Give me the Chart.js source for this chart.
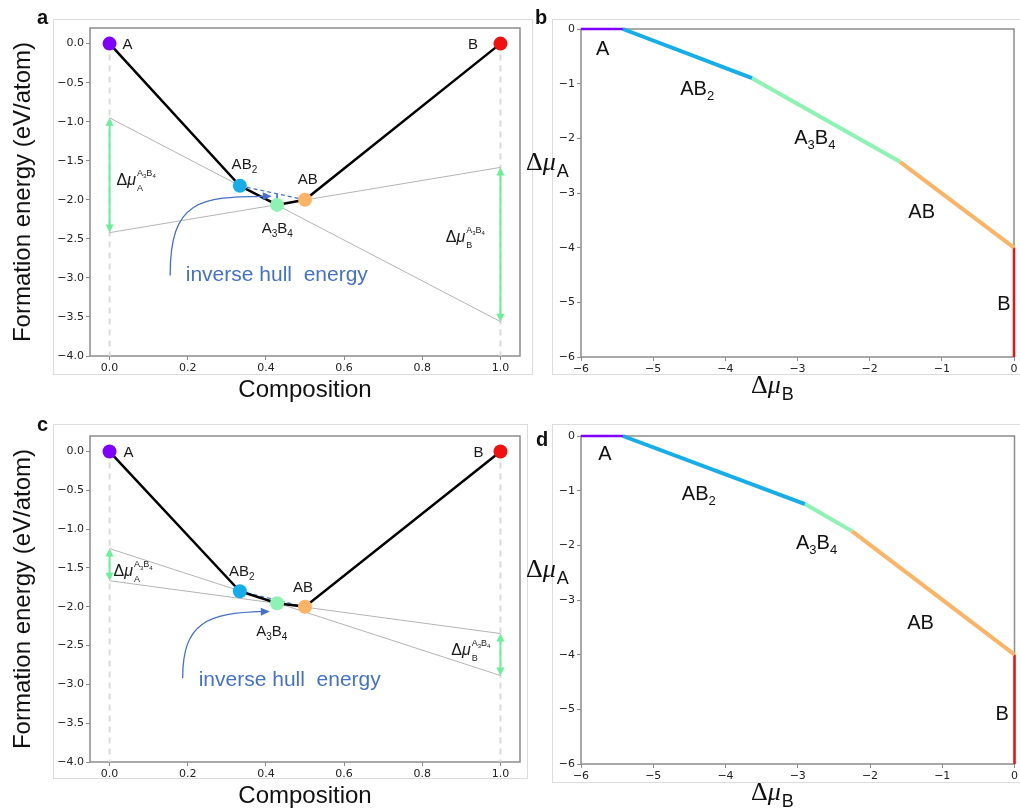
<!DOCTYPE html>
<html>
<head>
<meta charset="utf-8">
<script src="https://cdn.jsdelivr.net/npm/chart.js@4.4.0/dist/chart.umd.min.js"></script>
<style>
  body { margin: 0; background: #fff; }
  #fig { position: relative; width: 1020px; height: 811px; overflow: hidden; }
  .box { position: absolute; border: 1px solid #dcdcdc; }
  .tag { position: absolute; font: bold 20px "Liberation Sans", Arial, sans-serif; line-height: 20px; color: #111; }
  canvas { position: absolute; }
</style>
</head>
<body>
<div id="fig">
  <div class="box" style="left:53px;top:19px;width:478px;height:354px"></div>
  <div class="box" style="left:552px;top:19px;width:480px;height:354px"></div>
  <div class="box" style="left:53px;top:424px;width:473px;height:353px"></div>
  <div class="box" style="left:552px;top:424px;width:480px;height:357px"></div>
  <canvas id="chartA" width="530" height="405" style="left:0;top:0"></canvas>
  <canvas id="chartB" width="500" height="405" style="left:520px;top:0"></canvas>
  <canvas id="chartC" width="530" height="406" style="left:0;top:405px"></canvas>
  <canvas id="chartD" width="500" height="406" style="left:520px;top:405px"></canvas>
  <div class="tag" style="left:37px;top:7px">a</div>
  <div class="tag" style="left:535px;top:7px">b</div>
  <div class="tag" style="left:37px;top:414px">c</div>
  <div class="tag" style="left:536px;top:429px">d</div>
</div>
<script>
// phases along the hull, in order of composition
const phases = ["A", "AB_2", "A_3B_4", "AB", "B"];
const phaseColors = ["#8000ff", "#15aee8", "#8cf3b2", "#fbb466", "#f01010"];
const composition = [0, 0.3333, 0.4286, 0.5, 1];

// formation energies (eV/atom) for panels a and c
const energyA = [0, -1.82, -2.065, -2.0, 0];
const energyC = [0, -1.80, -1.955, -2.0, 0];

// grey tangent lines through A3B4, values at composition 0 and 1
const edgeComp = [0, 1];
const tangentA1 = [-0.95, -3.56];
const tangentA2 = [-2.42, -1.585];
const tangentC1 = [-1.25, -2.886];
const tangentC2 = [-1.665, -2.345];

const compTicks = [0, 0.2, 0.4, 0.6, 0.8, 1.0];
const energyTicks = [-4, -3.5, -3, -2.5, -2, -1.5, -1, -0.5, 0];

// chemical potential stability diagrams (vertices), panels b and d
const muB_b = [-6, -5.42, -3.63, -1.58, 0, 0];
const muA_b = [0, 0, -0.9, -2.43, -4.0, -6];
const muB_d = [-6, -5.42, -2.90, -2.25, 0, 0];
const muA_d = [0, 0, -1.244, -1.74, -4.0, -6];
const muTicks = [-6, -5, -4, -3, -2, -1, 0];

const SANS = '"Liberation Sans", Arial, sans-serif';
const SERIF = '"Liberation Serif", "Times New Roman", serif';
const BLUE = "#4472c4";
const GREEN = "#66f097";
const FRAME = "#8c8c8c";

function fmt1(v) { return v.toFixed(1).replace("-", "\u2212"); }
function fmt0(v) { return String(v).replace("-", "\u2212"); }

function axis(min, max, ticks, fmt, fit, horizontal, title, titlePad) {
  return {
    type: "linear",
    min: min,
    max: max,
    afterBuildTicks: (s) => { s.ticks = ticks.map((v) => ({ value: v })); },
    afterFit: (s) => { if (horizontal) s.height = fit; else s.width = fit; },
    ticks: {
      autoSkip: false, maxRotation: 0, padding: 2, color: "#222",
      font: { family: "DejaVu Sans", size: 11 },
      callback: (v) => fmt(v),
    },
    grid: { drawOnChartArea: false, tickLength: 4, color: FRAME },
    border: { display: false },
    title: title
      ? { display: true, text: title, color: "#111", font: { family: "Liberation Sans", size: 24 }, padding: titlePad }
      : { display: false },
  };
}

// text like "A_3B_4": "_" makes the next char a subscript; y is cap middle
function drawFormula(ctx, text, x, y, size, align) {
  const parts = [];
  for (let i = 0; i < text.length; i++) {
    if (text[i] === "_") parts.push({ t: text[++i], sub: true });
    else parts.push({ t: text[i], sub: false });
  }
  const big = size + "px " + SANS;
  const small = Math.round(size * 0.66) + "px " + SANS;
  let w = 0;
  parts.forEach((p) => { ctx.font = p.sub ? small : big; p.w = ctx.measureText(p.t).width; w += p.w; });
  let cx = align === "left" ? x : align === "right" ? x - w : x - w / 2;
  const base = y + size * 0.36;
  ctx.textAlign = "left";
  ctx.textBaseline = "alphabetic";
  parts.forEach((p) => {
    ctx.font = p.sub ? small : big;
    ctx.fillText(p.t, cx, base + (p.sub ? size * 0.25 : 0));
    cx += p.w;
  });
}

// x = left, y = baseline
function drawDeltaMu(ctx, x, y, size, family, subSize, subDy, sub, sup) {
  ctx.textAlign = "left";
  ctx.textBaseline = "alphabetic";
  ctx.font = size + "px " + family;
  ctx.fillText("\u0394", x, y);
  let cx = x + ctx.measureText("\u0394").width;
  ctx.font = "italic " + size + "px " + family;
  ctx.fillText("\u03bc", cx, y);
  cx += ctx.measureText("\u03bc").width + 1;
  ctx.font = subSize + "px " + SANS;
  ctx.fillText(sub, cx, y + subDy);
  if (sup) drawFormula(ctx, sup, cx, y - size * 0.78, subSize, "left");
}

function arrowHead(ctx, x, y, dx, dy, len, half) {
  const n = Math.hypot(dx, dy);
  const ux = dx / n, uy = dy / n;
  ctx.beginPath();
  ctx.moveTo(x, y);
  ctx.lineTo(x - ux * len - uy * half, y - uy * len + ux * half);
  ctx.lineTo(x - ux * len + uy * half, y - uy * len - ux * half);
  ctx.closePath();
  ctx.fill();
}

function frame(chart) {
  const { ctx, chartArea: a } = chart;
  ctx.save();
  ctx.strokeStyle = FRAME;
  ctx.lineWidth = 1.5;
  ctx.strokeRect(a.left, a.top, a.right - a.left, a.bottom - a.top);
  ctx.restore();
}

function hullDecor(notes, t1, t2) {
  return {
    id: "decor",
    beforeDatasetsDraw: frame,
    afterDatasetsDraw(chart) {
      const { ctx, scales: { x: sx, y: sy } } = chart;
      const px = (v) => sx.getPixelForValue(v);
      const py = (v) => sy.getPixelForValue(v);
      ctx.save();
      // green double arrows between the tangent lines
      ctx.strokeStyle = GREEN;
      ctx.fillStyle = GREEN;
      ctx.lineWidth = 2;
      [[edgeComp[0], t1[0], t2[0]], [edgeComp[1], t2[1], t1[1]]].forEach(([c, hi, lo]) => {
        const x = px(c), y1 = py(hi), y2 = py(lo);
        ctx.beginPath(); ctx.moveTo(x, y1 + 6); ctx.lineTo(x, y2 - 6); ctx.stroke();
        arrowHead(ctx, x, y1, 0, -1, 8, 4);
        arrowHead(ctx, x, y2, 0, 1, 8, 4);
      });
      // curved arrow to the inverse hull energy
      const c = notes.curve.map(([a, b]) => [px(a), py(b)]);
      ctx.strokeStyle = BLUE;
      ctx.fillStyle = BLUE;
      ctx.lineWidth = 1.3;
      ctx.beginPath();
      ctx.moveTo(c[0][0], c[0][1]);
      ctx.bezierCurveTo(c[1][0], c[1][1], c[2][0], c[2][1], c[3][0] - 6, c[3][1]);
      ctx.stroke();
      arrowHead(ctx, c[3][0], c[3][1], c[3][0] - c[2][0], c[3][1] - c[2][1], 9, 4);
      ctx.font = "21px " + SANS;
      ctx.textAlign = "left";
      ctx.textBaseline = "middle";
      ctx.fillText("inverse hull  energy", px(notes.text[0]), py(notes.text[1]));
      // phase labels
      ctx.fillStyle = "#1a1a1a";
      notes.labels.forEach((l) => drawFormula(ctx, l.t, px(l.x), py(l.y), 15, l.align || "center"));
      notes.deltas.forEach((d) =>
        drawDeltaMu(ctx, px(d.x), py(d.y), 16, SANS, 9, 6, d.sub, "A_3B_4"));
      ctx.restore();
    },
  };
}

function hullChart(id, energy, t1, t2, notes, pad, xFit) {
  const pts = composition.map((c, i) => ({ x: c, y: energy[i] }));
  const line = (xs, ys) => xs.map((x, i) => ({ x: x, y: ys[i] }));
  // the chord AB2 -> AB evaluated above A3B4
  const chord = energy[1] + (energy[3] - energy[1]) * (composition[2] - composition[1]) / (composition[3] - composition[1]);
  const plain = { showLine: true, pointRadius: 0, fill: false };
  return new Chart(document.getElementById(id), {
    type: "scatter",
    data: {
      datasets: [
        { data: pts, pointRadius: 7, pointBorderWidth: 0, pointBackgroundColor: phaseColors, order: 0 },
        Object.assign({ data: pts, borderColor: "#000", borderWidth: 2.5, order: 1 }, plain),
        Object.assign({ data: [pts[1], pts[3]], borderColor: BLUE, borderWidth: 1.2, borderDash: [4, 3], order: 2 }, plain),
        Object.assign({ data: [{ x: composition[2], y: chord }, pts[2]], borderColor: BLUE, borderWidth: 1, order: 2 }, plain),
        Object.assign({ data: line(edgeComp, t1), borderColor: "#b4b4b4", borderWidth: 1, order: 3 }, plain),
        Object.assign({ data: line(edgeComp, t2), borderColor: "#b4b4b4", borderWidth: 1, order: 3 }, plain),
        Object.assign({ data: line([edgeComp[0], edgeComp[0]], [0, -4]), borderColor: "#dadada", borderWidth: 2, borderDash: [6, 5], order: 4 }, plain),
        Object.assign({ data: line([edgeComp[1], edgeComp[1]], [0, -4]), borderColor: "#dadada", borderWidth: 2, borderDash: [6, 5], order: 4 }, plain),
      ],
    },
    options: {
      responsive: false,
      animation: false,
      events: [],
      layout: { padding: pad },
      scales: {
        x: axis(-0.05, 1.05, compTicks, fmt1, xFit, true, "Composition", { top: 0, bottom: 0 }),
        y: axis(-4, 0.2, energyTicks, fmt1, 90, false, "Formation energy (eV/atom)", { top: 9, bottom: 0 }),
      },
      plugins: { legend: { display: false }, tooltip: { enabled: false } },
    },
    plugins: [hullDecor(notes, t1, t2)],
  });
}

function muDecor(labels) {
  return {
    id: "decor",
    beforeDatasetsDraw: frame,
    afterDraw(chart) {
      const { ctx, chartArea: a, scales: { x: sx, y: sy } } = chart;
      ctx.save();
      ctx.fillStyle = "#111";
      labels.forEach((l) => drawFormula(ctx, l.t, sx.getPixelForValue(l.x), sy.getPixelForValue(l.y), 20, "center"));
      drawDeltaMu(ctx, a.left - 55, (a.top + a.bottom) / 2 - 23, 26, SERIF, 18, 7, "A");
      drawDeltaMu(ctx, a.left + 170, a.bottom + 36, 26, SERIF, 18, 7, "B");
      ctx.restore();
    },
  };
}

function muChart(id, muB, muA, labels, pad, xFit) {
  const widths = [2.5, 4, 4, 4, 2.5];
  const segs = phaseColors.map((col, i) => ({
    data: [{ x: muB[i], y: muA[i] }, { x: muB[i + 1], y: muA[i + 1] }],
    showLine: true, pointRadius: 0, borderColor: col, borderWidth: widths[i], clip: false,
  }));
  return new Chart(document.getElementById(id), {
    type: "scatter",
    data: { datasets: segs },
    options: {
      responsive: false,
      animation: false,
      events: [],
      layout: { padding: pad },
      scales: {
        x: axis(-6, 0, muTicks, fmt0, xFit, true, null),
        y: axis(-6, 0, muTicks, fmt0, 61, false, null),
      },
      plugins: { legend: { display: false }, tooltip: { enabled: false } },
    },
    plugins: [muDecor(labels)],
  });
}

hullChart("chartA", energyA, tangentA1, tangentA2, {
  labels: [
    { t: "A", x: 0.033, y: 0, align: "left" }, { t: "B", x: 0.93, y: 0 },
    { t: "AB_2", x: 0.345, y: -1.54 }, { t: "AB", x: 0.507, y: -1.73 }, { t: "A_3B_4", x: 0.429, y: -2.36 },
  ],
  deltas: [{ sub: "A", x: 0.018, y: -1.81 }, { sub: "B", x: 0.86, y: -2.54 }],
  curve: [[0.155, -2.97], [0.155, -2.0], [0.23, -1.96], [0.415, -1.955]],
  text: [0.195, -2.97],
}, { left: 0, top: 28, right: 10, bottom: 0 }, 49);

hullChart("chartC", energyC, tangentC1, tangentC2, {
  labels: [
    { t: "A", x: 0.036, y: 0, align: "left" }, { t: "B", x: 0.944, y: 0 },
    { t: "AB_2", x: 0.338, y: -1.535 }, { t: "AB", x: 0.495, y: -1.74 }, { t: "A_3B_4", x: 0.415, y: -2.31 },
  ],
  deltas: [{ sub: "A", x: 0.01, y: -1.61 }, { sub: "B", x: 0.874, y: -2.62 }],
  curve: [[0.187, -2.92], [0.187, -2.2], [0.25, -2.08], [0.41, -2.06]],
  text: [0.228, -2.94],
}, { left: 0, top: 31, right: 10, bottom: 0 }, 49);

muChart("chartB", muB_b, muA_b, [
  { t: "A", x: -5.70, y: -0.35 }, { t: "AB_2", x: -4.39, y: -1.08 }, { t: "A_3B_4", x: -2.76, y: -1.98 },
  { t: "AB", x: -1.28, y: -3.33 }, { t: "B", x: -0.14, y: -5.01 },
], { left: 0, top: 29, right: 6, bottom: 0 }, 48);

muChart("chartD", muB_d, muA_d, [
  { t: "A", x: -5.67, y: -0.31 }, { t: "AB_2", x: -4.37, y: -1.04 }, { t: "A_3B_4", x: -2.74, y: -1.94 },
  { t: "AB", x: -1.30, y: -3.40 }, { t: "B", x: -0.17, y: -5.07 },
], { left: 0, top: 31, right: 4, bottom: 0 }, 47);
</script>
</body>
</html>
